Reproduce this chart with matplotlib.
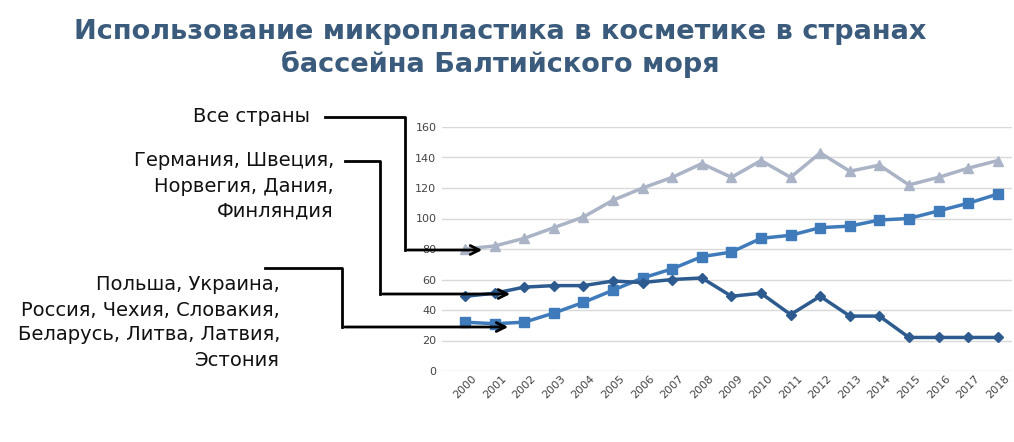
import matplotlib
matplotlib.use("Agg")
import matplotlib.pyplot as plt

years = [str(y) for y in range(2000, 2019)]
all_countries = [80, 82, 87, 94, 101, 112, 120, 127, 136, 127, 138, 127, 143, 131, 135, 122, 127, 133, 138]
east = [32, 31, 32, 38, 45, 53, 61, 67, 75, 78, 87, 89, 94, 95, 99, 100, 105, 110, 116]
nordic = [49, 51, 55, 56, 56, 59, 58, 60, 61, 49, 51, 37, 49, 36, 36, 22, 22, 22, 22]
yticks = [0, 20, 40, 60, 80, 100, 120, 140, 160]

W, H = 1014, 442
fig = plt.figure(figsize=(W/100, H/100), dpi=100)
def fx(px): return px / W
def fy(py): return 1 - py / H

ax = fig.add_axes([fx(442), fy(371), fx(1012) - fx(442), fy(127) - fy(371)])
x = list(range(len(years)))
ax.plot(x, all_countries, color="#aab4c6", marker="^", markersize=7, lw=2.5)
ax.plot(x, east, color="#3f7bbb", marker="s", markersize=7, lw=2.5)
ax.plot(x, nordic, color="#2e5b8f", marker="D", markersize=5.5, lw=2.5)
ax.set_xlim(-0.78, 18.48)
ax.set_ylim(0, 160)
ax.set_yticks(yticks)
ax.set_xticks(x)
ax.set_xticklabels(years, rotation=45, fontsize=8, color="#444444")
ax.tick_params(axis="y", labelsize=8, colors="#444444", length=0, pad=4)
ax.tick_params(axis="x", length=0, pad=2)
ax.grid(axis="y", color="#d9d9d9", lw=1)
ax.set_axisbelow(True)
for s in ax.spines.values():
    s.set_visible(False)

fig.text(fx(500), fy(32), "Использование микропластика в косметике в странах",
         ha="center", va="center", fontsize=19.5, fontweight="bold", color="#3b5b7d")
fig.text(fx(500), fy(64), "бассейна Балтийского моря",
         ha="center", va="center", fontsize=19.5, fontweight="bold", color="#3b5b7d")

def connector(tx, ty, label, pts, end, spacing=25):
    lines = label.split("\n")
    for i, l in enumerate(lines):
        fig.text(fx(tx), fy(ty + i * spacing), l, ha="right", va="center", fontsize=14, color="#111111")
    xs = [fx(p[0]) for p in pts]
    ys = [fy(p[1]) for p in pts]
    fig.add_artist(plt.Line2D(xs, ys, color="black", lw=2, transform=fig.transFigure))
    ax.annotate("", xy=(fx(end[0]), fy(end[1])), xycoords="figure fraction",
                xytext=(xs[-1], ys[-1]), textcoords="figure fraction",
                arrowprops=dict(arrowstyle="->", color="black", lw=2, mutation_scale=16))

connector(310, 117, "Все страны", [(325, 117), (405, 117), (405, 250)], (485, 250))
connector(334, 161, "Германия, Швеция,\nНорвегия, Дания,\nФинляндия",
          [(345, 161), (380, 161), (380, 294)], (513, 294))
connector(280, 285, "Польша, Украина,\nРоссия, Чехия, Словакия,\nБеларусь, Литва, Латвия,\nЭстония",
          [(265, 268), (342, 268), (342, 327)], (511, 327))

fig.savefig("out.png", dpi=100)
